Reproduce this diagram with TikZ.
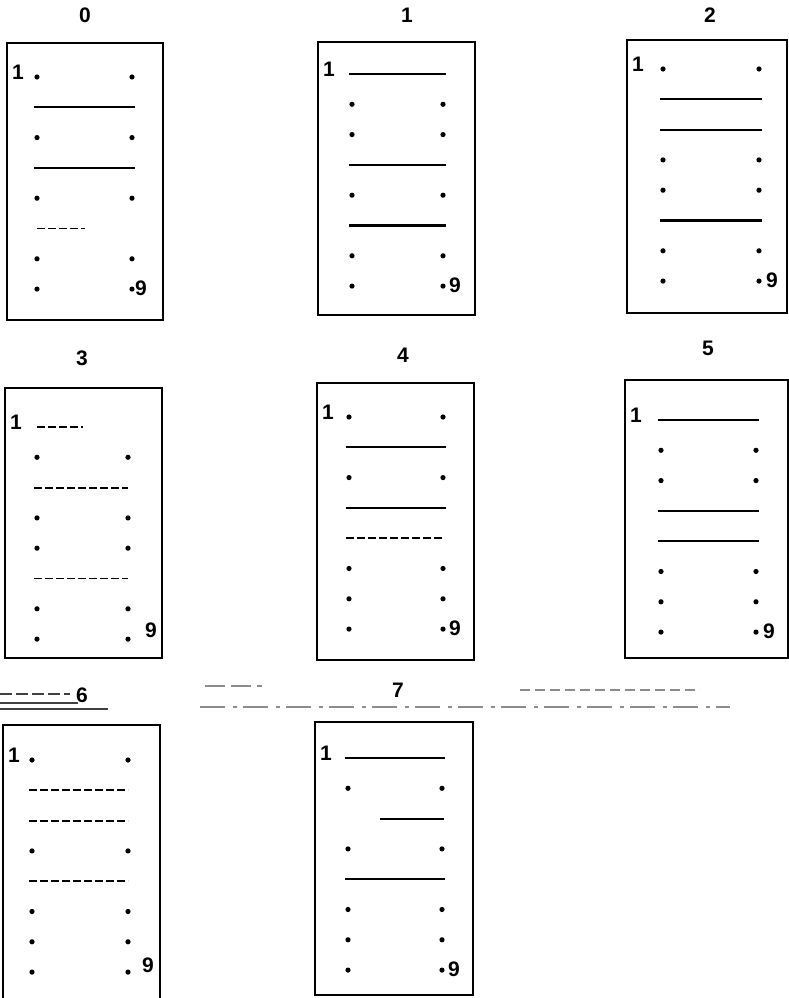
\documentclass[tikz,border=0pt]{standalone}
\usepackage{fontspec}
\setmainfont{Liberation Sans}
\tikzset{
  cardbox/.style={draw, line width=2.5pt},
  rowline/.style={line width=2.1pt},
  faintline/.style={line width=1.9pt, dash pattern=on 8pt off 3pt},
  holedot/.style={circle, fill, inner sep=0pt, minimum size=5.2pt},
  digit/.style={font=\fontsize{21}{21}\selectfont\bfseries, inner sep=0pt},
  scanstreak/.style={line width=1.4pt, black!75},
  lightstreak/.style={line width=1.2pt, black!45},
}
\begin{document}
\begin{tikzpicture}[x=1pt,y=-1pt]
\useasboundingbox (0,0) rectangle (789,998);
\foreach \n/\cx/\cy/\w/\h/\lx/\ly/\ry/\dl/\dr/\nd/\ny/\pat in {
  0/7/43/156/277/85/15/77/37/132/9/-1/{D,L,D,L,D,H,D,D},
  1/318/42/157/273/407/15/74/352/443/12/-1/{L,D,D,L,D,L,D,D},
  2/627/40/160/273/710/15/69/663/759/13/-1/{D,L,L,D,D,L,D,D},
  3/5/388/157/270/82/358/427/37/128/23/-9/{H,D,S,D,D,S,D,D},
  4/317/383/157/277/403/355/417/349/443/12/-1/{D,L,D,L,S,D,D,D},
  5/625/380/163/278/708/348/420/661/756/13/-1/{L,D,D,L,L,D,D,D},
  6/3/725/157/275/82/695/760/32/128/20/-7/{D,S,S,D,S,D,D,D},
  7/315/722/158/273/398/690/758/348/442/12/-1/{L,D,R,D,L,D,D,D}%
}{
  \draw[cardbox] (\cx,\cy) rectangle ++(\w,\h);
  \node[digit] (title\n) at (\lx,\ly) {\n};
  \node[digit] (one\n) at (\cx+11,\ry-5) {1};
  \node[digit] (nine\n) at (\dr+\nd,\ry+7*30.3+\ny) {9};
  \foreach \r [count=\i] in \pat {
    \pgfmathsetmacro\yy{\ry+(\i-1)*30.3}
    \if\r D
      \node[holedot] (dl\n-\i) at (\dl,\yy) {};
      \node[holedot] (dr\n-\i) at (\dr,\yy) {};
    \fi
    \if\r L
      \draw[rowline] (\dl-3,\yy) -- (\dr+3,\yy);
    \fi
    \if\r S
      \draw[faintline] (\dl-3,\yy) -- (\dr,\yy);
    \fi
    \if\r H
      \draw[faintline] (\dl,\yy) -- ({(\dl+\dr)/2},\yy);
    \fi
    \if\r R
      \draw[rowline] ({(\dl+\dr)/2-15},\yy) -- (\dr+2,\yy);
    \fi
  }
}
% scan streaks near labels 6 and 7
\draw[scanstreak, dash pattern=on 12pt off 4pt] (0,694) -- (70,694);
\draw[scanstreak, line width=2.6pt] (0,703) -- (78,703);
\draw[scanstreak] (0,709) -- (108,709);
\draw[lightstreak, dash pattern=on 20pt off 6pt] (205,686) -- (262,686);
\draw[lightstreak, dash pattern=on 25pt off 8pt on 4pt off 6pt] (200,707) -- (730,707);
\draw[lightstreak, dash pattern=on 10pt off 5pt] (520,690) -- (700,690);
\end{tikzpicture}
\end{document}
